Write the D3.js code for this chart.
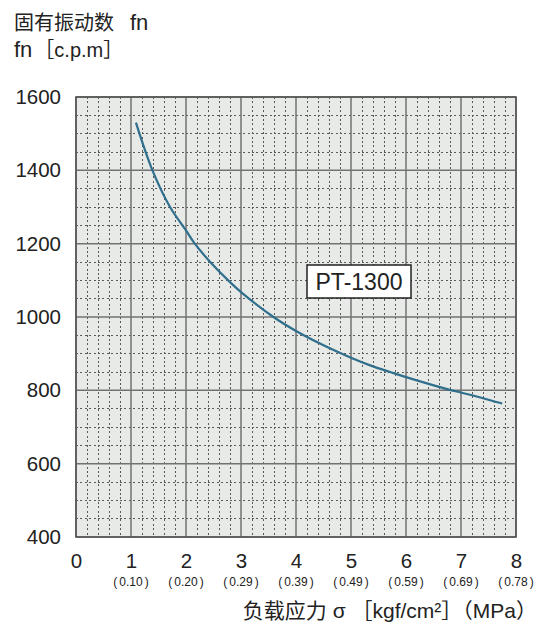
<!DOCTYPE html>
<html lang="zh">
  <head>
    <meta charset="utf-8" />
    <title>PT-1300 固有振动数</title>
    <script type="text/javascript" src="https://d3js.org/d3.v7.min.js"></script>
    <style>
      body {
        margin: 0;
        background: #fff;
      }
      text {
        font-family: "Liberation Sans", Arial, "Noto Sans CJK SC", sans-serif;
        fill: #222;
      }
      .cjk {
        font-family: "Liberation Sans", "Noto Sans CJK SC", sans-serif;
      }
      .minor {
        stroke: #5a5a5a;
        stroke-width: 1;
        stroke-dasharray: 2, 2.4;
        shape-rendering: crispEdges;
      }
      .major {
        stroke: #727272;
        stroke-width: 1.5;
      }
      .curve {
        fill: none;
        stroke: #2f6e8c;
        stroke-width: 2.2;
      }
    </style>
  </head>
  <body>
    <script>
      let w = 539;
      let h = 623;

      // x: load stress kgf/cm2, y: natural frequency c.p.m
      let xTicks = [0, 1, 2, 3, 4, 5, 6, 7, 8];
      let mpaLabels = ["", "0.10", "0.20", "0.29", "0.39", "0.49", "0.59", "0.69", "0.78"];
      let yTicks = [400, 600, 800, 1000, 1200, 1400, 1600];

      let sigma = [1.09, 1.39, 1.71, 2.0, 2.16, 2.44, 2.8, 3.0, 3.59, 4.0, 4.5, 5.0, 5.35, 5.71, 6.0, 6.83, 7.0, 7.75];
      let fn = [1530, 1400, 1300, 1236, 1200, 1150, 1095, 1068, 1000, 962, 923, 889, 868, 850, 836, 800, 794, 764];

      let data = sigma.map((s, i) => ({ s: s, f: fn[i] }));

      let x = d3.scaleLinear().domain([0, 8]).range([76, 516]);
      let y = d3.scaleLinear().domain([400, 1600]).range([537, 97]);

      let svg = d3.select("body").append("svg").attr("width", w).attr("height", h);

      // plot background
      svg
        .append("rect")
        .attr("x", x(0))
        .attr("y", y(1600))
        .attr("width", x(8) - x(0))
        .attr("height", y(400) - y(1600))
        .attr("fill", "#e7eae6");

      // minor grid
      let xMinor = d3.range(0, 8.001, 0.2).filter((v) => Math.abs(v - Math.round(v)) > 0.01);
      let yMinor = d3.range(400, 1601, 50).filter((v) => v % 200 !== 0);

      svg
        .append("g")
        .selectAll("line")
        .data(xMinor)
        .join("line")
        .attr("class", "minor")
        .attr("x1", (d) => x(d))
        .attr("x2", (d) => x(d))
        .attr("y1", y(1600))
        .attr("y2", y(400));

      svg
        .append("g")
        .selectAll("line")
        .data(yMinor)
        .join("line")
        .attr("class", "minor")
        .attr("x1", x(0))
        .attr("x2", x(8))
        .attr("y1", (d) => y(d))
        .attr("y2", (d) => y(d));

      // major grid
      svg
        .append("g")
        .selectAll("line")
        .data(xTicks)
        .join("line")
        .attr("class", "major")
        .attr("x1", (d) => x(d))
        .attr("x2", (d) => x(d))
        .attr("y1", y(1600))
        .attr("y2", y(400));

      svg
        .append("g")
        .selectAll("line")
        .data(yTicks)
        .join("line")
        .attr("class", "major")
        .attr("x1", x(0))
        .attr("x2", x(8))
        .attr("y1", (d) => y(d))
        .attr("y2", (d) => y(d));

      svg
        .append("rect")
        .attr("x", x(0))
        .attr("y", y(1600))
        .attr("width", x(8) - x(0))
        .attr("height", y(400) - y(1600))
        .attr("fill", "none")
        .attr("stroke", "#555")
        .attr("stroke-width", 1.6);

      // y axis labels
      let yAxis = d3.axisLeft(y).tickValues(yTicks).tickFormat(d3.format("d")).tickSize(0).tickPadding(15);
      let gy = svg.append("g").attr("transform", `translate(${x(0)},0)`).call(yAxis);
      gy.select(".domain").remove();
      gy.selectAll("text")
        .attr("font-size", "20.5px")
        .attr("font-family", "Liberation Sans, Arial, sans-serif")
        .attr("fill", "#222");

      // x axis labels
      let xAxis = d3.axisBottom(x).tickValues(xTicks).tickSize(0).tickPadding(16);
      let gx = svg.append("g").attr("transform", `translate(0,${y(400)})`).call(xAxis);
      gx.select(".domain").remove();
      gx.selectAll("text")
        .attr("font-size", "20.5px")
        .attr("font-family", "Liberation Sans, Arial, sans-serif")
        .attr("fill", "#222");

      let mpa = svg
        .append("g")
        .selectAll("text")
        .data(xTicks.filter((d, i) => mpaLabels[i] !== ""))
        .join("text")
        .attr("x", (d) => x(d))
        .attr("y", 586)
        .attr("text-anchor", "middle")
        .attr("font-size", "12px");
      mpa.append("tspan").text("(");
      mpa.append("tspan").attr("dx", 2).text((d) => mpaLabels[xTicks.indexOf(d)]);
      mpa.append("tspan").attr("dx", 2).text(")");

      // curve
      let line = d3
        .line()
        .x((d) => x(d.s))
        .y((d) => y(d.f))
        .curve(d3.curveCatmullRom.alpha(0.5));

      svg.append("path").attr("class", "curve").attr("d", line(data));

      // model label
      svg
        .append("rect")
        .attr("x", 307)
        .attr("y", 265)
        .attr("width", 104)
        .attr("height", 33)
        .attr("fill", "#fff")
        .attr("stroke", "#222")
        .attr("stroke-width", 1.5);

      svg
        .append("text")
        .attr("x", 359)
        .attr("y", 290)
        .attr("text-anchor", "middle")
        .attr("font-size", "23px")
        .text("PT-1300");

      // titles
      let t1 = svg
        .append("text")
        .attr("class", "cjk")
        .attr("x", 14)
        .attr("y", 30)
        .attr("font-size", "20px")
        .text("固有振动数");
      t1.append("tspan").attr("dx", 16).attr("font-size", "22px").text("fn");

      let t2 = svg
        .append("text")
        .attr("class", "cjk")
        .attr("x", 14)
        .attr("y", 57)
        .attr("font-size", "22px")
        .text("fn");
      t2.append("tspan").attr("dx", 2).attr("font-size", "20px").text("［c.p.m］");

      svg
        .append("text")
        .attr("class", "cjk")
        .attr("x", 537)
        .attr("y", 618)
        .attr("text-anchor", "end")
        .attr("font-size", "21px")
        .text("负载应力 σ ［kgf/cm²］（MPa）");
    </script>
  </body>
</html>
